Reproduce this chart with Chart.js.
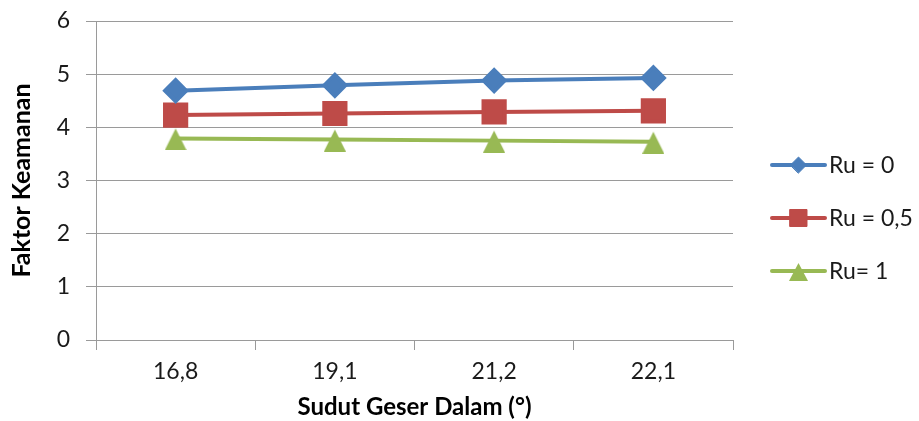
<!DOCTYPE html>
<html>
<head>
<meta charset="utf-8">
<script src="https://cdn.jsdelivr.net/npm/chart.js@4/dist/chart.umd.min.js"></script>
<style>
  html, body { margin: 0; padding: 0; background: #ffffff; }
  #wrap { width: 919px; height: 421px; position: relative; }
</style>
</head>
<body>
<div id="wrap"><canvas id="c" width="919" height="421"></canvas></div>
<script>
// Sudut geser dalam (degrees) on the category axis
const categories = ['16,8', '19,1', '21,2', '22,1'];

// Faktor keamanan for each pore-pressure ratio
const ru0 = [4.69, 4.79, 4.88, 4.93];
const ru05 = [4.23, 4.26, 4.29, 4.31];
const ru1 = [3.79, 3.77, 3.75, 3.73];

const seriesLabels = ['Ru = 0', 'Ru = 0,5', 'Ru= 1'];
const yTicks = [0, 1, 2, 3, 4, 5, 6];

const FONT = 'Lato, "Open Sans", sans-serif';
const GRID = '#9a9a9a';
const TEXT = '#1a1a1a';
const BLUE = '#4a7ebb';
const RED = '#be4b48';
const GREEN = '#98b954';

// Triangle marker whose box is centred on the data point (apex closer than base)
function triangleMarker(w, up, down, color) {
  const half = Math.max(up, down);
  const c = document.createElement('canvas');
  c.width = w;
  c.height = half * 2;
  const g = c.getContext('2d');
  g.fillStyle = color;
  g.beginPath();
  g.moveTo(w / 2, half - up);
  g.lineTo(w, half + down);
  g.lineTo(0, half + down);
  g.closePath();
  g.fill();
  return c;
}
const triPlot = triangleMarker(22, 10, 12, GREEN);
const triLegend = triangleMarker(19, 8, 10, GREEN);

// Legend drawn beside the plot: a short line with the series marker in its middle
const sideLegend = {
  id: 'sideLegend',
  afterDraw(chart) {
    const ctx = chart.ctx;
    const rows = [165, 218, 271];
    const legendStyle = ['rectRot', 'rect', triLegend];
    const legendRadius = [8, 12, 10];
    chart.data.datasets.forEach((ds, i) => {
      const y = rows[i];
      ctx.save();
      ctx.strokeStyle = ds.borderColor;
      ctx.lineWidth = 4;
      ctx.lineCap = 'round';
      ctx.beginPath();
      ctx.moveTo(772, y);
      ctx.lineTo(825, y);
      ctx.stroke();
      ctx.fillStyle = ds.borderColor;
      ctx.strokeStyle = ds.borderColor;
      ctx.lineWidth = 1;
      Chart.helpers.drawPoint(ctx, {
        pointStyle: legendStyle[i],
        rotation: 0,
        radius: legendRadius[i],
        borderWidth: 1
      }, 798.5, y);
      ctx.fillStyle = TEXT;
      ctx.font = '23px ' + FONT;
      ctx.textBaseline = 'middle';
      ctx.textAlign = 'left';
      ctx.fillText(ds.label, 829, y + 1);
      ctx.restore();
    });
  }
};

const chart = new Chart(document.getElementById('c'), {
  type: 'line',
  data: {
    labels: categories,
    datasets: [
      {
        label: seriesLabels[0],
        data: ru0,
        borderColor: BLUE,
        backgroundColor: BLUE,
        pointStyle: 'rectRot',
        pointRadius: 10.5,
        pointHoverRadius: 10.5,
        borderWidth: 4
      },
      {
        label: seriesLabels[1],
        data: ru05,
        borderColor: RED,
        backgroundColor: RED,
        pointStyle: 'rect',
        pointRadius: 15,
        pointHoverRadius: 15,
        borderWidth: 4
      },
      {
        label: seriesLabels[2],
        data: ru1,
        borderColor: GREEN,
        backgroundColor: GREEN,
        pointStyle: triPlot,
        pointRadius: 12,
        pointHoverRadius: 12,
        borderWidth: 4
      }
    ]
  },
  options: {
    responsive: false,
    animation: false,
    devicePixelRatio: 1,
    layout: { padding: { top: 21, right: 186, left: 0, bottom: 0 } },
    elements: { line: { tension: 0 }, point: { borderWidth: 1 } },
    plugins: {
      legend: { display: false },
      tooltip: { enabled: false }
    },
    scales: {
      x: {
        type: 'category',
        offset: true,
        grid: {
          offset: true,
          drawOnChartArea: false,
          drawTicks: true,
          tickLength: 10,
          color: GRID,
          lineWidth: 1
        },
        border: { color: GRID, width: 1 },
        ticks: {
          color: TEXT,
          font: { family: FONT, size: 23 },
          padding: 8,
          maxRotation: 0
        },
        title: {
          display: true,
          text: 'Sudut Geser Dalam (°)',
          color: '#000000',
          font: { family: FONT, size: 24, weight: 'bold' },
          padding: { top: 0, bottom: -1 }
        },
        afterFit(scale) {
          scale.height = 81;
          scale.paddingLeft = 0;
          scale.paddingRight = 0;
        }
      },
      y: {
        min: 0,
        max: 6,
        afterBuildTicks(scale) { scale.ticks = yTicks.map(v => ({ value: v })); },
        grid: {
          color: GRID,
          lineWidth: 1,
          tickLength: 10
        },
        border: { color: GRID, width: 1 },
        ticks: {
          color: TEXT,
          font: { family: FONT, size: 23 },
          padding: 16
        },
        title: {
          display: true,
          text: 'Faktor Keamanan',
          color: '#000000',
          font: { family: FONT, size: 25, weight: 'bold' },
          padding: { top: 7, bottom: 0 }
        },
        afterFit(scale) {
          scale.width = 96;
          scale.paddingTop = 0;
          scale.paddingBottom = 0;
        }
      }
    }
  },
  plugins: [sideLegend]
});
</script>
</body>
</html>
